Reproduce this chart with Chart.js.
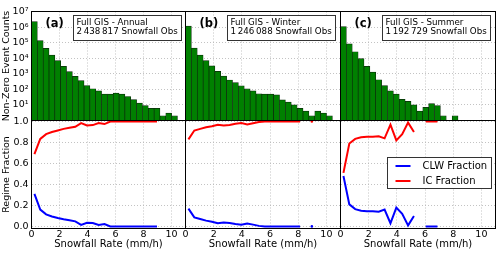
<!DOCTYPE html>
<html>
<head>
<meta charset="utf-8">
<script src="https://cdn.jsdelivr.net/npm/chart.js@4.4.1/dist/chart.umd.min.js"></script>
<style>
    html, body { margin: 0; padding: 0; background: #fff; }
    #wrap { position: relative; width: 500px; height: 253px; }
    #wrap canvas { position: absolute; left: 0; top: 0; }
</style>
</head>
<body>
<div id="wrap">
    <canvas id="top0" width="500" height="253"></canvas>
    <canvas id="top1" width="500" height="253"></canvas>
    <canvas id="top2" width="500" height="253"></canvas>
    <canvas id="bot0" width="500" height="253"></canvas>
    <canvas id="bot1" width="500" height="253"></canvas>
    <canvas id="bot2" width="500" height="253"></canvas>
</div>
<script>
// snowfall rate bin centres (mm/h)
const rateBins = [0.209, 0.626, 1.043, 1.460, 1.877, 2.294, 2.711, 3.128, 3.545, 3.962, 4.379, 4.796, 5.213,
    5.630, 6.047, 6.464, 6.881, 7.298, 7.715, 8.132, 8.549, 8.966, 9.383, 9.800, 10.217];

// non-zero event counts per bin
const countsAnnual = [2.24e6, 1.35e5, 4.3e4, 1.6e4, 7000, 3000, 1400, 690, 365, 175, 110, 80, 50, 50, 58, 50, 35, 22, 13, 9, 6, 6, 2, 3, 2];
const countsWinter = [1.17e6, 4.5e4, 1.6e4, 7000, 3200, 1450, 710, 400, 275, 170, 108, 80, 52, 50, 50, 44, 21, 15, 10, 6, 4, 2, 4, 3, 2];
const countsSummer = [1.07e6, 8.3e4, 2.6e4, 9400, 3000, 1300, 415, 175, 80, 49, 23, 17, 10, 4, 7, 12, 9, 2, null, 2];

// regime fractions per bin
const clwAnnual = [0.31, 0.16, 0.115, 0.095, 0.08, 0.068, 0.058, 0.048, 0.015, 0.035, 0.033, 0.013, 0.022, 0, 0, 0, 0, 0, 0, 0, 0, 0];
const icAnnual = [0.69, 0.835, 0.88, 0.9, 0.915, 0.93, 0.94, 0.95, 0.985, 0.962, 0.966, 0.986, 0.976, 1, 1, 1, 1, 1, 1, 1, 1, 1];
const clwWinter = [0.17, 0.086, 0.07, 0.055, 0.045, 0.03, 0.038, 0.033, 0.022, 0.015, 0.028, 0.017, 0.005, 0, 0, 0, 0, 0, 0, 0, null, 0];
const icWinter = [0.83, 0.914, 0.93, 0.945, 0.955, 0.97, 0.962, 0.967, 0.978, 0.985, 0.972, 0.983, 0.995, 1, 1, 1, 1, 1, 1, 1, null, 1];
const clwSummer = [0.48, 0.21, 0.165, 0.15, 0.145, 0.145, 0.14, 0.16, 0.03, 0.18, 0.12, 0.01, 0.1, null, 0, 0, 0];
const icSummer = [0.51, 0.79, 0.835, 0.85, 0.855, 0.855, 0.86, 0.84, 0.97, 0.82, 0.88, 0.99, 0.9, null, 1, 1, 1];

const panelTags = ['(a)', '(b)', '(c)'];
const panelTitles = ['Full GIS - Annual', 'Full GIS - Winter', 'Full GIS - Summer'];
const obsTotals = ['2\u2009438\u2009817', '1\u2009246\u2009088', '1\u2009192\u2009729'];
const xTicks = [0, 2, 4, 6, 8, 10];
const countTicks = [1, 10, 100, 1000, 1e4, 1e5, 1e6, 1e7];
const fracTicks = [0, 0.2, 0.4, 0.6, 0.8, 1.0];

// layout
const colLeft = [31.5, 185.5, 340.5];
const colRight = [185.5, 340.5, 495.5];
const topY = 11.5, midY = 120.5, botY = 228.5;
const FONT = '"DejaVu Sans", sans-serif';
const sup = ['\u2070', '\u00b9', '\u00b2', '\u00b3', '\u2074', '\u2075', '\u2076', '\u2077'];

Chart.defaults.font.family = FONT;
Chart.defaults.color = '#000';

const gridOpts = { color: '#b4b4b4', lineWidth: 0.8, drawTicks: false, offset: false };
const borderOpts = { display: false, dash: [1, 2] };

const framePlugin = {
    id: 'frame',
    afterDraw(chart) {
        const { ctx, chartArea: a } = chart;
        ctx.save();
        ctx.strokeStyle = '#000';
        ctx.lineWidth = 1;
        ctx.strokeRect(a.left, a.top, a.right - a.left, a.bottom - a.top);
        ctx.restore();
    }
};

function notePlugin(idx) {
    return {
        id: 'note' + idx,
        afterDraw(chart) {
            const { ctx, chartArea: a } = chart;
            ctx.save();
            ctx.fillStyle = '#000';
            ctx.textAlign = 'left';
            ctx.textBaseline = 'middle';
            ctx.font = 'bold 11.5px ' + FONT;
            ctx.fillText(panelTags[idx], a.left + 14, 24);

            ctx.font = '8.7px ' + FONT;
            const l1 = panelTitles[idx];
            const l2 = obsTotals[idx] + ' Snowfall Obs';
            const w = Math.round(Math.max(ctx.measureText(l1).width, ctx.measureText(l2).width) + 7);
            const bx = Math.round(a.left + 41) + 0.5, by = 15.5, bh = 25;
            ctx.fillStyle = '#fff';
            ctx.fillRect(bx, by, w, bh);
            ctx.strokeStyle = '#333';
            ctx.lineWidth = 1;
            ctx.strokeRect(bx, by, w, bh);
            ctx.fillStyle = '#000';
            ctx.fillText(l1, bx + 3, 23);
            ctx.fillText(l2, bx + 3, 32);
            ctx.restore();
        }
    };
}

const legendPlugin = {
    id: 'fracLegend',
    afterDraw(chart) {
        const { ctx, chartArea: a } = chart;
        const sets = chart.data.datasets;
        ctx.save();
        ctx.font = '10px ' + FONT;
        const tw = Math.max(...sets.map(s => ctx.measureText(s.label).width));
        const w = Math.round(35 + tw + 4), h = 31;
        const bx = Math.round(a.right - 5 - w) + 0.5, by = Math.round(a.top + 36) + 0.5;
        ctx.fillStyle = '#fff';
        ctx.fillRect(bx, by, w, h);
        ctx.strokeStyle = '#333';
        ctx.lineWidth = 1;
        ctx.strokeRect(bx, by, w, h);
        sets.forEach((s, i) => {
            const y = by + 8.5 + i * 15;
            ctx.strokeStyle = s.borderColor;
            ctx.lineWidth = 2;
            ctx.beginPath();
            ctx.moveTo(bx + 8, y);
            ctx.lineTo(bx + 23, y);
            ctx.stroke();
            ctx.fillStyle = '#000';
            ctx.textAlign = 'left';
            ctx.textBaseline = 'middle';
            ctx.fillText(s.label, bx + 35, y);
        });
        ctx.restore();
    }
};

function isolatedRadius(ctx) {
    const d = ctx.dataset.data, i = ctx.dataIndex;
    const gone = p => !p || p.y == null;
    return gone(d[i - 1]) && gone(d[i + 1]) ? 1.3 : 0;
}

function makeTop(idx, counts) {
    const left = colLeft[idx], right = colRight[idx];
    const yW = idx === 0 ? left : 0;
    return new Chart(document.getElementById('top' + idx), {
        type: 'bar',
        data: {
            datasets: [{
                data: counts.map((v, i) => ({ x: rateBins[i], y: v })),
                backgroundColor: '#008000',
                borderColor: '#0a2a0a',
                borderWidth: 0.7,
                barPercentage: 1,
                categoryPercentage: 1
            }]
        },
        options: {
            responsive: false,
            animation: false,
            devicePixelRatio: 1,
            layout: { padding: { left: left - yW, right: 500 - right, top: topY, bottom: 253 - midY } },
            plugins: { legend: { display: false }, tooltip: { enabled: false } },
            scales: {
                x: {
                    type: 'linear', min: 0, max: 11, offset: false,
                    afterBuildTicks: s => { s.ticks = xTicks.map(v => ({ value: v })); },
                    afterFit: s => { s.height = 0; },
                    ticks: { display: false },
                    grid: gridOpts,
                    border: borderOpts
                },
                y: {
                    type: 'logarithmic', min: 1, max: 1e7,
                    afterBuildTicks: s => { s.ticks = countTicks.map(v => ({ value: v })); },
                    afterFit: s => { s.width = yW; },
                    ticks: {
                        display: idx === 0,
                        padding: 3,
                        font: { size: 9.5 },
                        callback: v => v === 1 ? '' : '10' + sup[Math.round(Math.log10(v))]
                    },
                    title: {
                        display: idx === 0,
                        text: 'Non-Zero Event Counts',
                        font: { size: 9.5 },
                        padding: { top: 1, bottom: 0 }
                    },
                    grid: gridOpts,
                    border: borderOpts
                }
            }
        },
        plugins: [framePlugin, notePlugin(idx)]
    });
}

function makeBottom(idx, clw, ic) {
    const left = colLeft[idx], right = colRight[idx];
    const yW = idx === 0 ? left : 0;
    const xH = 253 - botY;
    const line = (label, vals, color) => ({
        label: label,
        data: vals.map((v, i) => ({ x: rateBins[i], y: v })),
        borderColor: color,
        backgroundColor: color,
        borderWidth: 2,
        pointRadius: isolatedRadius,
        pointBorderWidth: 0,
        pointBackgroundColor: color,
        spanGaps: false,
        tension: 0
    });
    return new Chart(document.getElementById('bot' + idx), {
        type: 'line',
        data: {
            datasets: [line('CLW Fraction', clw, '#0000ff'), line('IC Fraction', ic, '#ff0000')]
        },
        options: {
            responsive: false,
            animation: false,
            devicePixelRatio: 1,
            layout: { padding: { left: left - yW, right: 500 - right, top: midY, bottom: 0 } },
            plugins: { legend: { display: false }, tooltip: { enabled: false } },
            scales: {
                x: {
                    type: 'linear', min: 0, max: 11, offset: false,
                    afterBuildTicks: s => { s.ticks = xTicks.map(v => ({ value: v })); },
                    afterFit: s => { s.height = xH; },
                    ticks: { padding: 0, font: { size: 9.5 }, maxRotation: 0, autoSkip: false },
                    title: {
                        display: true,
                        text: 'Snowfall Rate (mm/h)',
                        font: { size: 10 },
                        padding: { top: 0, bottom: 3 }
                    },
                    grid: gridOpts,
                    border: borderOpts
                },
                y: {
                    type: 'linear', min: -0.02, max: 1.01,
                    afterBuildTicks: s => { s.ticks = fracTicks.map(v => ({ value: v })); },
                    afterFit: s => { s.width = yW; },
                    ticks: {
                        display: idx === 0,
                        padding: 3,
                        font: { size: 9.5 },
                        callback: v => v.toFixed(1)
                    },
                    title: {
                        display: idx === 0,
                        text: 'Regime Fraction',
                        font: { size: 9.5 },
                        padding: { top: 1, bottom: 0 }
                    },
                    grid: gridOpts,
                    border: borderOpts
                }
            }
        },
        plugins: idx === 2 ? [framePlugin, legendPlugin] : [framePlugin]
    });
}

makeTop(0, countsAnnual);
makeTop(1, countsWinter);
makeTop(2, countsSummer);
makeBottom(0, clwAnnual, icAnnual);
makeBottom(1, clwWinter, icWinter);
makeBottom(2, clwSummer, icSummer);
</script>
</body>
</html>
